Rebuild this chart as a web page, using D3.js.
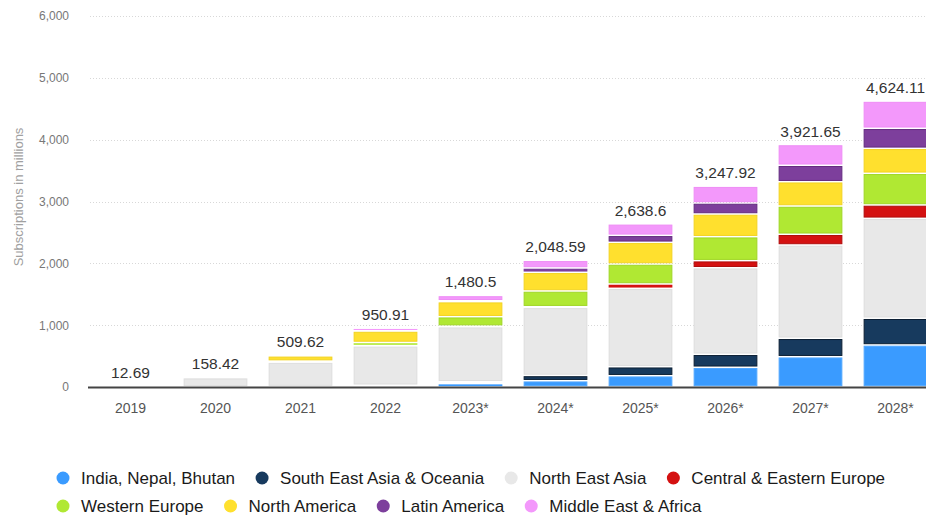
<!DOCTYPE html>
<html>
<head>
<meta charset="utf-8">
<script src="https://cdn.jsdelivr.net/npm/d3@7"></script>
<style>
  html, body { margin: 0; padding: 0; background: #fff; }
  svg { display: block; font-family: "Liberation Sans", Arial, sans-serif; }
</style>
</head>
<body>
<svg id="chart" width="926" height="515"></svg>
<script>
// 5G subscriptions by region, in millions (* = forecast)
const years = ["2019", "2020", "2021", "2022", "2023*", "2024*", "2025*", "2026*", "2027*", "2028*"];

const regions = [
  "India, Nepal, Bhutan",
  "South East Asia & Oceania",
  "North East Asia",
  "Central & Eastern Europe",
  "Western Europe",
  "North America",
  "Latin America",
  "Middle East & Africa"
];

const indiaNepalBhutan   = [0,     1,   2,   3,  55,  102,  183,  319,  490,  680];
const southEastAsia      = [0,     2,   5,  25,  30,   85,  145,  210,  298,  432];
const northEastAsia      = [12.69, 148, 395, 637, 890, 1100, 1268, 1400, 1509, 1616];
const centralEastEurope  = [0,     1,   2,   5,  10,   12,   70,  114,  173,  216];
const westernEurope      = [0,     2,  15,  50, 152,  254,  323,  388,  457,  512];
const northAmerica       = [0,     3,  85, 185, 243,  302,  351,  367,  393,  404];
const latinAmerica       = [0,   0.5,   2,   5,  15,   70,  113,  178,  266,  324];
const middleEastAfrica   = [0,  0.92, 3.62, 40.91, 85.5, 123.59, 185.6, 271.92, 335.65, 440.11];

const seriesValues = [
  indiaNepalBhutan, southEastAsia, northEastAsia, centralEastEurope,
  westernEurope, northAmerica, latinAmerica, middleEastAfrica
];

const yTicks = [0, 1000, 2000, 3000, 4000, 5000, 6000];

const fills   = ["#3a9bff", "#173a5e", "#e8e8e8", "#d41111", "#b0e833", "#ffe02e", "#7d3f9c", "#f398fb"];
const strokes = ["#52a8ff", "#0c1f33", "#dedede", "#b00c0c", "#a0d626", "#f2d322", "#642b80", "#ee8cf5"];

// Table: one row per year, one column per region
const rows = years.map((yr, i) => {
  const r = { year: yr };
  regions.forEach((name, k) => { r[name] = seriesValues[k][i]; });
  return r;
});

const svg = d3.select("#chart");
const W = 926;

const x = d3.scaleBand()
  .domain(years)
  .range([88, 938])
  .paddingInner(0.25)
  .paddingOuter(0.125);

const y = d3.scaleLinear()
  .domain([0, 6000])
  .range([387, 16]);

// Dotted horizontal grid
svg.append("g")
  .selectAll("line")
  .data(yTicks.filter(d => d > 0))
  .join("line")
  .attr("x1", 90).attr("x2", W)
  .attr("y1", d => Math.round(y(d)) + 0.5)
  .attr("y2", d => Math.round(y(d)) + 0.5)
  .attr("stroke", "#d8d8d8")
  .attr("stroke-width", 1)
  .attr("stroke-dasharray", "1,2");

// Y axis tick labels
const yAxis = d3.axisLeft(y).tickValues(yTicks).tickSize(0).tickPadding(0)
  .tickFormat(d3.format(","));
const yG = svg.append("g").attr("transform", "translate(69,0)").call(yAxis);
yG.select(".domain").remove();
yG.selectAll("text")
  .attr("fill", "#777")
  .style("font-size", "12px")
  .style("font-family", "'Liberation Sans', Arial, sans-serif");

// Y axis title
svg.append("text")
  .attr("transform", "translate(23,197) rotate(-90)")
  .attr("text-anchor", "middle")
  .attr("fill", "#a0a0a0")
  .style("font-size", "13px")
  .text("Subscriptions in millions");

// Stacked bars: each segment leaves a thin white gap to its neighbours
const stack = d3.stack().keys(regions);
const stacked = stack(rows);

const gap = 1.5;
const segTop = d => y(d[1]) + gap / 2;
const segH = d => (y(d[0]) - y(d[1])) - gap;

svg.append("g")
  .selectAll("g")
  .data(stacked)
  .join("g")
  .each(function (layer, k) {
    const segs = layer.filter(d => segH(d) > 0.4);
    // thick segments: fill with an inner darker outline
    d3.select(this)
      .selectAll("rect.thick")
      .data(segs.filter(d => segH(d) >= 3))
      .join("rect")
      .attr("class", "thick")
      .attr("x", d => x(d.data.year) + 0.5)
      .attr("width", x.bandwidth() - 1)
      .attr("y", d => segTop(d) + 0.5)
      .attr("height", d => segH(d) - 1)
      .attr("fill", fills[k])
      .attr("stroke", strokes[k])
      .attr("stroke-width", 1);
    // very thin segments: a plain sliver
    d3.select(this)
      .selectAll("rect.thin")
      .data(segs.filter(d => segH(d) < 3))
      .join("rect")
      .attr("class", "thin")
      .attr("x", d => x(d.data.year))
      .attr("width", x.bandwidth())
      .attr("y", d => segTop(d))
      .attr("height", d => segH(d))
      .attr("fill", k === 2 ? strokes[k] : fills[k]);
  });

// Baseline
svg.append("line")
  .attr("x1", 88).attr("x2", W)
  .attr("y1", y(0) + 0.5).attr("y2", y(0) + 0.5)
  .attr("stroke", "#444")
  .attr("stroke-width", 2);

// X axis labels
const xAxis = d3.axisBottom(x).tickSize(0).tickPadding(0);
const xG = svg.append("g").attr("transform", "translate(0," + (y(0) + 26) + ")").call(xAxis);
xG.select(".domain").remove();
xG.selectAll("text")
  .attr("dy", 0)
  .attr("fill", "#555")
  .style("font-size", "14px")
  .style("font-family", "'Liberation Sans', Arial, sans-serif");

// Total labels above each bar
const topLayer = stacked[stacked.length - 1];
const fmt = d3.format(",.2~f");
svg.append("g")
  .selectAll("text")
  .data(topLayer)
  .join("text")
  .attr("x", d => x(d.data.year) + x.bandwidth() / 2)
  .attr("y", d => y(d[1]) - 8)
  .attr("text-anchor", "middle")
  .attr("fill", "#333")
  .style("font-size", "15.5px")
  .text(d => fmt(Math.round(d[1] * 100) / 100));

// Legend, two rows
const legendRows = [regions.slice(0, 4), regions.slice(4)];
legendRows.forEach((items, r) => {
  let cx = 63;
  const cy = 478 + r * 28;
  items.forEach(name => {
    const k = regions.indexOf(name);
    svg.append("circle")
      .attr("cx", cx).attr("cy", cy).attr("r", 6.5)
      .attr("fill", fills[k]);
    const t = svg.append("text")
      .attr("x", cx + 18).attr("y", cy + 5.5)
      .attr("fill", "#1a1a1a")
      .style("font-size", "17px")
      .text(name);
    cx = cx + 18 + t.node().getComputedTextLength() + 27;
  });
});
</script>
</body>
</html>
